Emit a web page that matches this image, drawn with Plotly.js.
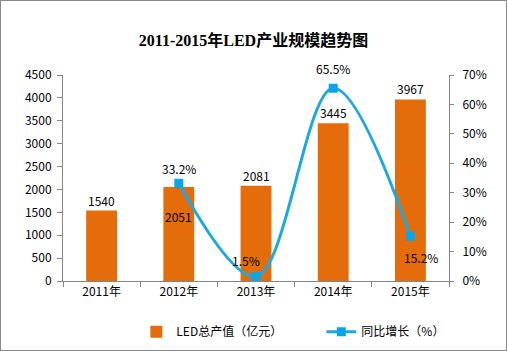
<!DOCTYPE html>
<html><head><meta charset="utf-8">
<script src="https://cdn.plot.ly/plotly-3.0.1.min.js"></script>
<style>
body{margin:0;padding:0;background:#fff;}
#c{position:absolute;left:0;top:0;width:507px;height:351px;}
#b{position:absolute;left:0;top:0;width:507px;height:351px;box-sizing:border-box;border:1px solid #8a8a8a;pointer-events:none;}
</style></head>
<body><div id="c"></div><div id="b"></div>
<script>
const years = ['2011年','2012年','2013年','2014年','2015年'];
const output = [1540, 2051, 2081, 3445, 3967];
const growthYears = ['2012年','2013年','2014年','2015年'];
const growth = [33.2, 1.5, 65.5, 15.2];
const leftTicks = [0,500,1000,1500,2000,2500,3000,3500,4000,4500];
const rightTicks = [0,10,20,30,40,50,60,70];

const F = 'Noto Sans CJK SC, sans-serif';
const barShift = [[0,0,'bottom'],[0,-19,'top'],[0,0,'bottom'],[0,0,'bottom'],[0,0,'bottom']];
const lineShift = [[0,4,'bottom'],[-10,16,'middle'],[0,20,'middle'],[11,-21,'middle']];

const ann = [];
years.forEach((y,i)=>ann.push({x:y,y:output[i],xref:'x',yref:'y',text:String(output[i]),showarrow:false,
  xshift:barShift[i][0],yshift:barShift[i][1],yanchor:barShift[i][2],font:{family:F,size:12,color:'#000'}}));
growthYears.forEach((y,i)=>ann.push({x:y,y:growth[i],xref:'x',yref:'y2',text:growth[i].toFixed(1)+'%',showarrow:false,
  xshift:lineShift[i][0],yshift:lineShift[i][1],yanchor:lineShift[i][2],font:{family:F,size:12,color:'#000'}}));

const data = [
 {type:'bar',x:years,y:output,name:'LED总产值（亿元）',marker:{color:'#E46C0A'},width:0.4,hoverinfo:'skip'},
 {type:'scatter',mode:'lines+markers',x:growthYears,y:growth,yaxis:'y2',name:'同比增长（%）',
  line:{color:'#1CA9E2',width:3,shape:'spline',smoothing:1},
  marker:{symbol:'square',size:9,color:'#0AA5E8'},hoverinfo:'skip'}
];
const layout = {
 width:507,height:351,
 margin:{l:63,r:58,t:75,b:70,autoexpand:false},
 paper_bgcolor:'#fff',plot_bgcolor:'#fff',
 font:{family:F,size:12,color:'#000'},
 title:{text:'<b>2011-2015年LED产业规模趋势图</b>',x:0.5,xanchor:'center',y:0.886,yanchor:'middle',
   font:{family:'Liberation Serif, Noto Sans CJK SC, serif',size:16,color:'#000'}},
 xaxis:{type:'category',categoryorder:'array',categoryarray:years,showline:true,linecolor:'#868686',linewidth:1,
   ticks:'outside',tickson:'boundaries',ticklen:5,tickcolor:'#868686',showgrid:false,zeroline:false,
   tickfont:{family:F,size:12,color:'#000'}},
 yaxis:{range:[0,4500],tickvals:leftTicks,ticktext:leftTicks.map(String),showline:true,linecolor:'#868686',
   ticks:'outside',ticklen:5,tickcolor:'#868686',showgrid:false,zeroline:false,ticklabelstandoff:3,
   tickfont:{family:F,size:12,color:'#000'}},
 yaxis2:{overlaying:'y',side:'right',range:[0,70],tickvals:rightTicks,ticktext:rightTicks.map(v=>v+'%'),
   showline:true,linecolor:'#868686',ticks:'outside',ticklen:4,tickcolor:'#868686',showgrid:false,zeroline:false,
   ticklabelstandoff:6,tickfont:{family:F,size:12,color:'#000'}},
 showlegend:true,
 legend:{orientation:'h',x:0.19,xanchor:'left',yref:'container',y:0.055,yanchor:'middle',font:{family:F,size:12,color:'#000'},
   bgcolor:'rgba(0,0,0,0)',itemwidth:30,traceorder:'normal',entrywidth:140,entrywidthmode:'pixels'},
 annotations:ann,
 bargap:0.6
};
Plotly.newPlot('c',data,layout,{staticPlot:true,displayModeBar:false});
</script></body></html>
